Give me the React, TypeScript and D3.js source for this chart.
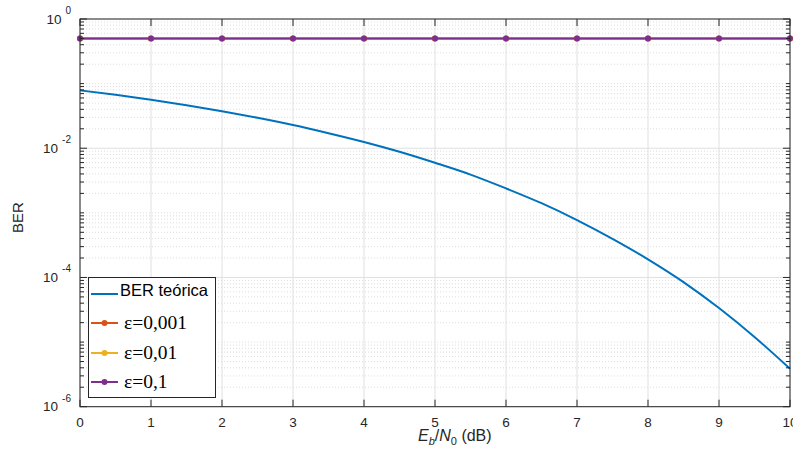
import React from "react";
import * as d3 from "d3";

// ---- data ----
const ebn0 = [0, 0.5, 1, 1.5, 2, 2.5, 3, 3.5, 4, 4.5, 5, 5.5, 6, 6.5, 7, 7.5, 8, 8.5, 9, 9.5, 10];
const berTeorica = [
  0.0786, 0.0671, 0.0563, 0.0464, 0.0375, 0.0296, 0.0229, 0.0171, 0.0125, 0.00881, 0.00595,
  0.00391, 0.00239, 0.00141, 0.000773, 0.000396, 0.000191, 0.0000848, 0.0000336, 0.000012, 0.00000387,
];
const ebn0Sim = [0, 1, 2, 3, 4, 5, 6, 7, 8, 9, 10];
const berEps0001 = [0.5, 0.5, 0.5, 0.5, 0.5, 0.5, 0.5, 0.5, 0.5, 0.5, 0.5];
const berEps001 = [0.5, 0.5, 0.5, 0.5, 0.5, 0.5, 0.5, 0.5, 0.5, 0.5, 0.5];
const berEps01 = [0.5, 0.5, 0.5, 0.5, 0.5, 0.5, 0.5, 0.5, 0.5, 0.5, 0.5];
const xTicks = [0, 1, 2, 3, 4, 5, 6, 7, 8, 9, 10];
const yMajorExp = [0, -2, -4, -6];
const legendLabels = ["BER teórica", "ε=0,001", "ε=0,01", "ε=0,1"];

const SANS = "'Liberation Sans', Arial, Helvetica, sans-serif";
const SERIF = "'Liberation Serif', 'Times New Roman', serif";
const AX = "#262626";
const COLORS = ["#0072BD", "#D95319", "#EDB120", "#7E2F8E"];

export default function App() {
  const W = 793, H = 449;
  const L = 80, R = 790, T = 19, B = 406.7;
  const x = d3.scaleLinear().domain([0, 10]).range([L, R]);
  const y = d3.scaleLog().domain([1e-6, 1]).range([B, T]);

  const minorVals: number[] = [];
  for (let e = -6; e < 0; e++) {
    for (let k = 1; k <= 9; k++) {
      const v = k * Math.pow(10, e);
      if (k === 1 && e % 2 === 0) continue;
      minorVals.push(v);
    }
  }

  const line = d3
    .line<[number, number]>()
    .x((d) => x(d[0]))
    .y((d) => y(d[1]))
    .curve(d3.curveMonotoneX);

  const simSeries = [berEps0001, berEps001, berEps01];

  const legendY = [294, 323, 353, 382];

  return (
    <svg
      width={W}
      height={H}
      style={{ position: "absolute", left: 0, top: 0, background: "#fff" }}
    >
      <rect x={0} y={0} width={W} height={H} fill="#fff" />
      {/* minor y grid */}
      {minorVals.map((v, i) => (
        <line
          key={"mg" + i}
          x1={L}
          x2={R}
          y1={y(v)}
          y2={y(v)}
          stroke="#d4d4d4"
          strokeWidth={0.8}
          strokeDasharray="1 2"
        />
      ))}
      {/* major y grid */}
      {yMajorExp.map((e) => (
        <line
          key={"yg" + e}
          x1={L}
          x2={R}
          y1={y(Math.pow(10, e))}
          y2={y(Math.pow(10, e))}
          stroke="#e0e0e0"
          strokeWidth={1}
        />
      ))}
      {/* major x grid */}
      {xTicks.map((t) => (
        <line key={"xg" + t} x1={x(t)} x2={x(t)} y1={T} y2={B} stroke="#e0e0e0" strokeWidth={1} />
      ))}

      {/* theoretical curve */}
      <path
        d={line(ebn0.map((v, i) => [v, berTeorica[i]] as [number, number])) || ""}
        fill="none"
        stroke={COLORS[0]}
        strokeWidth={2}
      />
      {/* simulated series */}
      {simSeries.map((s, si) => (
        <g key={"s" + si}>
          <path
            d={
              d3
                .line<[number, number]>()
                .x((d) => x(d[0]))
                .y((d) => y(d[1]))(ebn0Sim.map((v, i) => [v, s[i]] as [number, number])) || ""
            }
            fill="none"
            stroke={COLORS[si + 1]}
            strokeWidth={2}
          />
          {ebn0Sim.map((v, i) => (
            <circle key={i} cx={x(v)} cy={y(s[i])} r={3} fill={COLORS[si + 1]} />
          ))}
        </g>
      ))}

      {/* axes box */}
      <rect x={L} y={T} width={R - L} height={B - T} fill="none" stroke={AX} strokeWidth={1} />
      {/* x ticks */}
      {xTicks.map((t) => (
        <g key={"xt" + t}>
          <line x1={x(t)} x2={x(t)} y1={B} y2={B - 7} stroke={AX} />
          <line x1={x(t)} x2={x(t)} y1={T} y2={T + 7} stroke={AX} />
          <text
            x={x(t)}
            y={427}
            textAnchor="middle"
            fontFamily={SANS}
            fontSize={13.5}
            fill={AX}
          >
            {t}
          </text>
        </g>
      ))}
      {/* y ticks */}
      {minorVals.map((v, i) => (
        <g key={"ym" + i}>
          <line x1={L} x2={L + 4} y1={y(v)} y2={y(v)} stroke={AX} />
          <line x1={R} x2={R - 4} y1={y(v)} y2={y(v)} stroke={AX} />
        </g>
      ))}
      {yMajorExp.map((e) => {
        const yy = y(Math.pow(10, e));
        return (
          <g key={"yt" + e}>
            <line x1={L} x2={L + 7} y1={yy} y2={yy} stroke={AX} />
            <line x1={R} x2={R - 7} y1={yy} y2={yy} stroke={AX} />
            <text x={71} y={yy + 4.5} textAnchor="end" fontFamily={SANS} fontSize={13.5} fill={AX}>
              <tspan>10</tspan>
              <tspan dx={4} dy={-9.5} fontSize={10}>
                {String(e)}
              </tspan>
            </text>
          </g>
        );
      })}

      {/* axis labels */}
      <text
        transform={`translate(23,217.5) rotate(-90)`}
        textAnchor="middle"
        fontFamily={SANS}
        fontSize={15}
        fill={AX}
      >
        BER
      </text>
      <text x={418} y={441} fontFamily={SANS} fontSize={16} fill={AX}>
        <tspan fontStyle="italic">E</tspan>
        <tspan fontStyle="italic" fontSize={11} dy={4}>
          b
        </tspan>
        <tspan dy={-4}>/</tspan>
        <tspan fontStyle="italic">N</tspan>
        <tspan fontSize={11} dy={4}>
          0
        </tspan>
        <tspan dy={-4}> (dB)</tspan>
      </text>

      {/* legend */}
      <rect x={88.5} y={277.5} width={127} height={120} fill="#fff" stroke={AX} strokeWidth={1} />
      {legendLabels.map((lab, i) => (
        <g key={"lg" + i}>
          <line x1={91} x2={118} y1={legendY[i]} y2={legendY[i]} stroke={COLORS[i]} strokeWidth={2} />
          {i > 0 && <circle cx={104.5} cy={legendY[i]} r={3} fill={COLORS[i]} />}
          {i === 0 ? (
            <text x={120} y={legendY[i] + 2} fontFamily={SANS} fontSize={16.5} fill="#000">
              {lab}
            </text>
          ) : (
            <text x={124} y={legendY[i] + 6} fontFamily={SERIF} fontSize={19.5} fill="#000">
              {lab}
            </text>
          )}
        </g>
      ))}
    </svg>
  );
}
